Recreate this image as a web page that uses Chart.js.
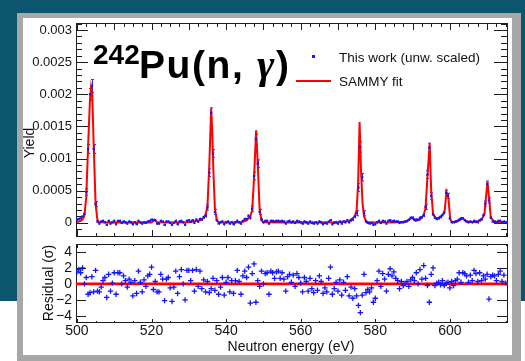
<!DOCTYPE html>
<html><head><meta charset="utf-8">
<script src="https://cdn.jsdelivr.net/npm/chart.js@4.4.1/dist/chart.umd.min.js"></script>
<style>
html,body{margin:0;padding:0;width:525px;height:361px;overflow:hidden;background:#fff;font-family:"Liberation Sans",Arial,sans-serif;}
#teal{position:absolute;left:0;top:0;width:525px;height:301px;background:#0b566e;}
#frame{position:absolute;left:17px;top:13px;width:504px;height:348px;background:#a7a7a7;}
#panel{position:absolute;left:23px;top:18px;width:489px;height:337px;background:#fff;}
canvas{position:absolute;left:0;top:0;}
.t{position:absolute;white-space:nowrap;color:#111;line-height:1;}
.rot{transform:translate(-50%,-50%) rotate(-90deg);}
</style></head><body>
<div id="teal"></div><div id="frame"></div><div id="panel"></div>
<canvas id="top" width="525" height="361"></canvas>
<canvas id="bot" width="525" height="361"></canvas>
<div class="t" style="left:93px;top:41px;font-size:28px;line-height:28px;font-weight:bold;color:#000">242</div>
<div class="t" style="left:139px;top:45px;font-size:39px;line-height:39px;font-weight:bold;color:#000;letter-spacing:1.6px">Pu(n, <span style="font-family:'Liberation Serif',serif;font-style:italic;font-weight:bold;font-size:42px">γ</span>)</div>
<div style="position:absolute;left:312px;top:55px;width:3px;height:3px;background:#1414ff"></div>
<div class="t" style="left:339px;top:50.5px;font-size:13.5px;">This work (unw. scaled)</div>
<div style="position:absolute;left:296px;top:80px;width:35px;height:2px;background:#ff0000"></div>
<div class="t" style="left:339px;top:74.5px;font-size:13.5px;">SAMMY fit</div>
<div class="t rot" style="left:29px;top:143px;font-size:14px;">Yield</div>
<div class="t rot" style="left:47.5px;top:283px;font-size:14px;">Residual (σ)</div>
<div class="t" style="left:291px;top:338.5px;font-size:14px;transform:translateX(-50%);">Neutron energy (eV)</div>
<script>
// ---- data ----
const energy = [
500,500.5,501,501.5,502,502.5,503,503.5,504,504.5,
505,505.5,506,506.5,507,507.5,508,508.5,509,509.5,
510,510.5,511,511.5,512,512.5,513,513.5,514,514.5,
515,515.5,516,516.5,517,517.5,518,518.5,519,519.5,
520,520.5,521,521.5,522,522.5,523,523.5,524,524.5,
525,525.5,526,526.5,527,527.5,528,528.5,529,529.5,
530,530.5,531,531.5,532,532.5,533,533.5,534,534.5,
535,535.5,536,536.5,537,537.5,538,538.5,539,539.5,
540,540.5,541,541.5,542,542.5,543,543.5,544,544.5,
545,545.5,546,546.5,547,547.5,548,548.5,549,549.5,
550,550.5,551,551.5,552,552.5,553,553.5,554,554.5,
555,555.5,556,556.5,557,557.5,558,558.5,559,559.5,
560,560.5,561,561.5,562,562.5,563,563.5,564,564.5,
565,565.5,566,566.5,567,567.5,568,568.5,569,569.5,
570,570.5,571,571.5,572,572.5,573,573.5,574,574.5,
575,575.5,576,576.5,577,577.5,578,578.5,579,579.5,
580,580.5,581,581.5,582,582.5,583,583.5,584,584.5,
585,585.5,586,586.5,587,587.5,588,588.5,589,589.5,
590,590.5,591,591.5,592,592.5,593,593.5,594,594.5,
595,595.5,596,596.5,597,597.5,598,598.5,599,599.5,
600,600.5,601,601.5,602,602.5,603,603.5,604,604.5,
605,605.5,606,606.5,607,607.5,608,608.5,609,609.5,
610,610.5,611,611.5,612,612.5,613,613.5,614,614.5,
615];

const yieldData = [
5e-5,6e-5,7e-5,10e-5,14e-5,48e-5,115e-5,200e-5,213e-5,115e-5,
29e-5,2e-5,-1e-5,2e-5,3e-5,1e-5,-3e-5,3e-5,-1e-5,1e-5,
3e-5,-2e-5,3e-5,3e-5,0,2e-5,1e-5,-1e-5,2e-5,1e-5,
-2e-5,1e-5,-2e-5,3e-5,1e-5,-1e-5,1e-5,0,2e-5,3e-5,
5e-5,4e-5,4e-5,-1e-5,-1e-5,3e-5,2e-5,-3e-5,2e-5,2e-5,
0,-3e-5,0,3e-5,-2e-5,2e-5,3e-5,1e-5,-3e-5,3e-5,
4e-5,2e-5,4e-5,0,5e-5,2e-5,6e-5,5e-5,9e-5,11e-5,
24e-5,78e-5,171e-5,108e-5,17e-5,4e-5,-1e-5,1e-5,2e-5,-2e-5,
1e-5,2e-5,-1e-5,1e-5,-2e-5,1e-5,3e-5,1e-5,-1e-5,3e-5,
6e-5,6e-5,11e-5,8e-5,22e-5,73e-5,130e-5,92e-5,17e-5,5e-5,
1e-5,3e-5,3e-5,-1e-5,3e-5,3e-5,2e-5,3e-5,3e-5,2e-5,
3e-5,2e-5,-1e-5,2e-5,3e-5,1e-5,2e-5,0,3e-5,2e-5,
1e-5,-1e-5,2e-5,1e-5,-1e-5,2e-5,0,-1e-5,1e-5,-1e-5,
2e-5,1e-5,-2e-5,0,-1e-5,2e-5,4e-5,-2e-5,0,1e-5,
-1e-5,2e-5,-1e-5,2e-5,1e-5,4e-5,1e-5,4e-5,5e-5,10e-5,
15e-5,55e-5,118e-5,71e-5,15e-5,2e-5,0,-1e-5,0,-3e-5,
-2e-5,1e-5,3e-5,0,3e-5,2e-5,-1e-5,3e-5,4e-5,2e-5,
3e-5,2e-5,2e-5,0,1e-5,1e-5,2e-5,3e-5,5e-5,8e-5,
8e-5,5e-5,5e-5,5e-5,8e-5,9e-5,12e-5,25e-5,75e-5,117e-5,
42e-5,13e-5,8e-5,6e-5,7e-5,9e-5,12e-5,16e-5,47e-5,42e-5,
7e-5,1e-5,1e-5,2e-5,3e-5,5e-5,7e-5,7e-5,4e-5,2e-5,
1e-5,2e-5,1e-5,3e-5,2e-5,1e-5,4e-5,6e-5,12e-5,30e-5,
60e-5,35e-5,8e-5,2e-5,2e-5,1e-5,3e-5,3e-5,1e-5,2e-5,
1e-5];

const yieldErr = [
2e-5,2e-5,2e-5,2e-5,3e-5,5e-5,7e-5,9e-5,10e-5,7e-5,
4e-5,2e-5,2e-5,2e-5,2e-5,2e-5,2e-5,2e-5,2e-5,2e-5,
2e-5,2e-5,2e-5,2e-5,2e-5,2e-5,2e-5,2e-5,2e-5,2e-5,
2e-5,2e-5,2e-5,2e-5,2e-5,2e-5,2e-5,2e-5,2e-5,2e-5,
2e-5,2e-5,2e-5,2e-5,2e-5,2e-5,2e-5,2e-5,2e-5,2e-5,
2e-5,2e-5,2e-5,2e-5,2e-5,2e-5,2e-5,2e-5,2e-5,2e-5,
2e-5,2e-5,2e-5,2e-5,2e-5,2e-5,2e-5,2e-5,3e-5,3e-5,
4e-5,6e-5,8e-5,6e-5,4e-5,2e-5,2e-5,2e-5,2e-5,2e-5,
2e-5,2e-5,2e-5,2e-5,2e-5,2e-5,2e-5,2e-5,2e-5,2e-5,
2e-5,2e-5,2e-5,3e-5,4e-5,6e-5,8e-5,6e-5,4e-5,2e-5,
2e-5,2e-5,2e-5,2e-5,2e-5,2e-5,2e-5,2e-5,2e-5,2e-5,
2e-5,2e-5,2e-5,2e-5,2e-5,2e-5,2e-5,2e-5,2e-5,2e-5,
2e-5,2e-5,2e-5,2e-5,2e-5,2e-5,2e-5,2e-5,2e-5,2e-5,
2e-5,2e-5,2e-5,2e-5,2e-5,2e-5,2e-5,2e-5,2e-5,2e-5,
2e-5,2e-5,2e-5,2e-5,2e-5,2e-5,2e-5,2e-5,2e-5,3e-5,
4e-5,6e-5,8e-5,6e-5,4e-5,2e-5,2e-5,2e-5,2e-5,2e-5,
2e-5,2e-5,2e-5,2e-5,2e-5,2e-5,2e-5,2e-5,2e-5,2e-5,
2e-5,2e-5,2e-5,2e-5,2e-5,2e-5,2e-5,2e-5,2e-5,2e-5,
2e-5,2e-5,2e-5,2e-5,2e-5,2e-5,3e-5,4e-5,6e-5,7e-5,
5e-5,3e-5,2e-5,2e-5,2e-5,2e-5,2e-5,3e-5,4e-5,4e-5,
3e-5,2e-5,2e-5,2e-5,2e-5,2e-5,2e-5,2e-5,2e-5,2e-5,
2e-5,2e-5,2e-5,2e-5,2e-5,2e-5,2e-5,2e-5,3e-5,4e-5,
5e-5,4e-5,2e-5,2e-5,2e-5,2e-5,2e-5,2e-5,2e-5,2e-5,
2e-5];

const residual = [
1.5,1.8,1.4,2.0,0.0,0.8,-1.3,-1.1,0.9,-1.0,
1.7,-0.9,-1.0,-0.4,0.4,0.8,-1.7,1.2,-0.9,0.1,
1.4,-1.3,1.4,1.4,0.0,1.0,0.4,-0.4,0.6,0.2,
-1.5,0.4,-1.2,1.6,0.2,-1.0,0.5,-0.3,1.0,1.2,
2.1,-0.7,0.3,-1.0,-1.0,1.2,0.6,-2.1,0.6,0.8,
-0.5,-2.2,-0.4,1.6,-1.2,0.9,1.8,0.0,-2.0,1.7,
1.7,0.4,1.7,-0.9,1.8,-0.3,1.6,-0.6,0.5,-1.0,
0.3,-1.1,-0.6,0.7,-0.8,0.4,-1.3,-0.4,0.8,-1.4,
0.2,0.8,-1.0,0.4,-1.2,0.4,1.7,0.3,-1.3,1.0,
1.6,0.8,2.1,-2.4,1.3,2.5,-2.3,0.4,-0.3,1.6,
0.0,1.3,1.4,-1.3,1.6,1.4,0.7,1.5,1.6,0.7,
1.4,0.6,-0.9,0.9,1.2,0.2,1.1,-0.3,1.3,0.8,
0.1,-1.0,0.8,0.3,-0.9,0.7,-0.6,-1.1,0.4,-0.8,
1.0,0.3,-1.2,-0.5,-1.0,0.7,2.1,-1.3,-0.6,0.2,
-0.9,0.5,-1.4,0.2,-0.8,0.9,-1.5,-0.4,-1.8,-0.6,
-1.5,-2.7,-3.6,-1.4,1.2,-1.1,-0.7,-1.0,-0.5,-2.3,
-1.8,0.4,1.6,-0.3,1.3,0.6,-0.9,1.2,1.9,1.0,
1.5,0.7,0.4,-0.6,0.3,-0.2,0.0,0.3,-0.3,0.5,
0.8,0.4,1.4,0.0,1.8,0.6,2.3,0.7,-0.2,-2.3,
1.2,2.0,-0.2,0.1,0.2,-0.1,0.4,-0.2,0.1,0.2,
-0.5,0.3,-0.2,0.4,0.6,1.4,0.2,1.4,1.3,1.0,
0.2,1.1,0.4,1.7,1.3,0.3,1.4,0.4,1.0,0.6,
1.2,-1.9,0.9,1.1,1.0,0.4,1.2,1.6,0.3,1.1,
0.1];

const fitE = [500,501,501.5,502,502.5,503,503.5,503.8,504.1,504.5,505,505.5,506,510,515,520,520.8,521.5,525,530,
533,534,534.5,535,535.5,536,536.3,536.6,537,537.5,538,540,544,545.5,546.5,547,547.5,548.05,548.5,549,549.5,550,
555,560,565,570,573,574.5,575,575.4,575.8,576.2,576.6,577,577.5,578,585,588.5,589.8,590.8,592,593,593.5,594,
594.6,595,595.5,596.3,597,598,598.6,599.1,599.6,600.1,600.6,602,603.5,604.5,607,608.5,609.3,609.5,610.1,610.5,
611,612,615.6];
const fitY = [1e-5,3e-5,5e-5,11e-5,40e-5,120e-5,192e-5,211e-5,200e-5,120e-5,30e-5,4e-5,1e-5,0.5e-5,0.5e-5,0.5e-5,5e-5,1e-5,0.5e-5,1e-5,
4e-5,8e-5,13e-5,25e-5,90e-5,178e-5,140e-5,80e-5,22e-5,4e-5,1e-5,0.5e-5,1e-5,4e-5,10e-5,20e-5,70e-5,144e-5,90e-5,20e-5,4e-5,1e-5,
0.5e-5,0.5e-5,0.5e-5,1e-5,3e-5,10e-5,20e-5,60e-5,157e-5,80e-5,30e-5,10e-5,3e-5,1e-5,0.5e-5,2e-5,8e-5,3e-5,5e-5,12e-5,24e-5,72e-5,
123e-5,50e-5,14e-5,7e-5,8e-5,12e-5,18e-5,48e-5,40e-5,6e-5,1e-5,2e-5,7e-5,2e-5,1e-5,5e-5,14e-5,28e-5,64e-5,40e-5,
8e-5,1e-5,1e-5];

const residFitE = [499.75, 615.6];
const residFitY = [0, 0];

const yTicksTop = {min:-0.00022, max:0.00311, step:0.0005};
const yTicksRes = {min:-4.9, max:5.0, step:2};
const xRange = {min:499.75, max:615.6, step:20};

// ---- drawing ----
const FONT = "'Liberation Sans', Arial, sans-serif";
Chart.defaults.font.family = FONT;

const rootAxes = {
  id:'rootAxes',
  beforeDatasetsDraw(chart, args, o) {
    const {ctx, chartArea:a, scales:{x,y}} = chart;
    ctx.save();
    ctx.strokeStyle = '#1e1e1e'; ctx.lineWidth = 1;
    ctx.beginPath();
    const tk = (sc, spec, draw) => {
      const [from, step, major, lMaj, lMin] = spec;
      const n = Math.ceil((sc.max - from) / step) + 1;
      for (let k = 0; k <= n; k++) {
        const v = from + k * step;
        if (v < sc.min - 1e-12 || v > sc.max + 1e-12) continue;
        const r = v / major;
        const isMaj = Math.abs(r - Math.round(r)) < 1e-6;
        draw(Math.round(sc.getPixelForValue(v)) + 0.5, isMaj ? lMaj : lMin);
      }
    };
    tk(x, o.xb, (p,l)=>{ctx.moveTo(p,a.bottom);ctx.lineTo(p,a.bottom-l);});
    tk(x, o.xt, (p,l)=>{ctx.moveTo(p,a.top);ctx.lineTo(p,a.top+l);});
    tk(y, o.yl, (p,l)=>{ctx.moveTo(a.left,p);ctx.lineTo(a.left+l,p);});
    tk(y, o.yr, (p,l)=>{ctx.moveTo(a.right,p);ctx.lineTo(a.right-l,p);});
    ctx.stroke();
    ctx.strokeRect(Math.round(a.left)+0.5, Math.round(a.top)+0.5, Math.round(a.right-a.left)-1, Math.round(a.bottom-a.top)-1);
    ctx.restore();
  }
};

const errBars = {
  id:'errBars',
  beforeDatasetsDraw(chart) {
    const {ctx, chartArea:a, scales:{x,y}} = chart;
    ctx.save();
    ctx.beginPath(); ctx.rect(a.left, a.top, a.right-a.left, a.bottom-a.top); ctx.clip();
    ctx.strokeStyle = '#2a2aff'; ctx.lineWidth = 1;
    ctx.beginPath();
    energy.forEach((e,i) => {
      const px = Math.round(x.getPixelForValue(e)) + 0.5;
      const y1 = y.getPixelForValue(yieldData[i] - yieldErr[i]);
      const y2 = y.getPixelForValue(yieldData[i] + yieldErr[i]);
      ctx.moveTo(px, y1); ctx.lineTo(px, y2);
      if (yieldErr[i] > 3e-5) { ctx.moveTo(px-1.5, y2); ctx.lineTo(px+1.5, y2); ctx.moveTo(px-1.5, y1); ctx.lineTo(px+1.5, y1); }
    });
    ctx.stroke();
    ctx.restore();
  }
};

const fmtTop = v => v === 0 ? '0' : String(parseFloat(v.toFixed(5)));
const fmtRes = v => v < 0 ? '\u2212' + Math.abs(v) : String(v);

new Chart(document.getElementById('top'), {
  type:'scatter',
  data:{datasets:[
    {label:'This work (unw. scaled)', data:energy.map((e,i)=>({x:e,y:yieldData[i]})),
     pointStyle:'rect', pointRadius:1.6, backgroundColor:'#1414ff', borderColor:'#1414ff', borderWidth:0, showLine:false},
    {label:'SAMMY fit', data:fitE.map((e,i)=>({x:e,y:fitY[i]})),
     showLine:true, borderColor:'#ff0000', borderWidth:2, pointRadius:0, tension:0, fill:false}
  ]},
  options:{
    responsive:false, animation:false, devicePixelRatio:1, events:[],
    layout:{padding:{left:6,right:17,top:23,bottom:124}},
    plugins:{legend:{display:false}, tooltip:{enabled:false},
      rootAxes:{xb:[500,5,20,7,4], xt:[500,2.5,10,7,4], yl:[-0.0002,0.0001,0.0005,12,6], yr:[-0.0002,0.0001,0.0005,14,7]}},
    scales:{
      x:{type:'linear', min:xRange.min, max:xRange.max, display:false},
      y:{type:'linear', min:yTicksTop.min, max:yTicksTop.max,
         afterFit:s=>{s.width=70;},
         grid:{display:false, drawTicks:false}, border:{display:false},
         ticks:{stepSize:yTicksTop.step, includeBounds:false, autoSkip:false, padding:4, color:'#141414', font:{size:13}, callback:fmtTop}}
    }
  },
  plugins:[rootAxes, errBars]
});

new Chart(document.getElementById('bot'), {
  type:'scatter',
  data:{datasets:[
    {label:'residual', data:energy.map((e,i)=>({x:e,y:residual[i]})),
     pointStyle:'cross', pointRadius:2.7, borderColor:'#1414ff', borderWidth:1.3, showLine:false},
    {label:'zero', data:residFitE.map((e,i)=>({x:e,y:residFitY[i]})),
     showLine:true, borderColor:'#ff0000', borderWidth:2.6, pointRadius:0}
  ]},
  options:{
    responsive:false, animation:false, devicePixelRatio:1, events:[],
    layout:{padding:{left:6,right:17,top:244,bottom:0}},
    plugins:{legend:{display:false}, tooltip:{enabled:false},
      rootAxes:{xb:[500,5,20,4,2], xt:[500,5,20,4,2], yl:[-4,2,2,10,10], yr:[-4,2,2,11,11]}},
    scales:{
      x:{type:'linear', min:xRange.min, max:xRange.max,
         afterFit:s=>{s.height=38;},
         grid:{display:false, drawTicks:false}, border:{display:false},
         ticks:{stepSize:xRange.step, includeBounds:false, autoSkip:false, padding:0, maxRotation:0, color:'#141414', font:{size:14}, callback:v=>String(v)}},
      y:{type:'linear', min:yTicksRes.min, max:yTicksRes.max,
         afterFit:s=>{s.width=70;},
         grid:{display:false, drawTicks:false}, border:{display:false},
         ticks:{stepSize:yTicksRes.step, includeBounds:false, autoSkip:false, padding:4, color:'#141414', font:{size:14}, callback:fmtRes}}
    }
  },
  plugins:[rootAxes]
});
</script>
</body></html>
